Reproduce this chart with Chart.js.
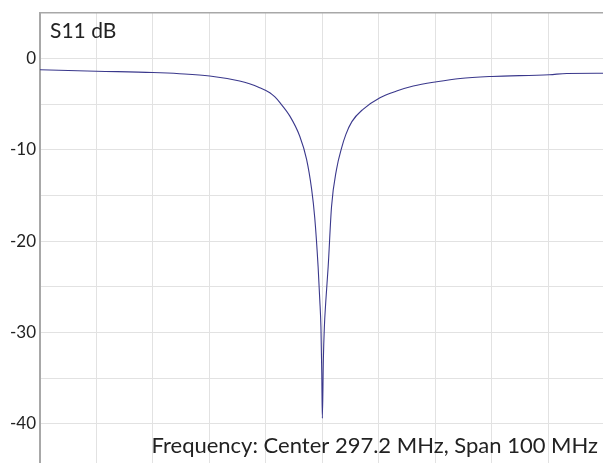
<!DOCTYPE html>
<html>
<head>
<meta charset="utf-8">
<script src="https://cdn.jsdelivr.net/npm/chart.js@4.4.1/dist/chart.umd.min.js"></script>
<style>
  body { margin: 0; background: #fff; }
</style>
</head>
<body>
<canvas id="myChart" width="603" height="463"></canvas>
<script>
// S11 sweep, frequency in MHz
const freq = [247.2, 257.2, 267.15, 271.9, 277.25, 282.55, 284.3, 286.1, 287.9, 288.8, 289.65, 291.45,
  293.2, 294.4, 295.3, 295.85, 296.45, 296.75, 296.95, 297.1, 297.2,
  297.38, 297.55, 297.82, 298.23, 298.83, 299.72, 300.6, 301.37, 302.43, 304.4, 307.4,
  310.35, 313.3, 317.45, 321.6, 327.2, 337.4, 340.5, 346.9]
const s11 = [-1.22, -1.38, -1.52, -1.65, -1.9, -2.45, -2.75, -3.18, -3.73, -4.2, -4.8, -6.3,
  -8.5, -11.0, -14.3, -17.4, -22.8, -26.5, -29.4, -34.5, -39.4,
  -33.0, -29.5, -26.5, -22.8, -16.2, -12.1, -9.8, -8.3, -6.9, -5.55, -4.28,
  -3.55, -3.0, -2.53, -2.17, -1.95, -1.76, -1.62, -1.6]

const xGrid = [247.2, 257.2, 267.2, 277.2, 287.2, 297.2, 307.2, 317.2, 327.2, 337.2]
const yGrid = [-40, -35, -30, -25, -20, -15, -10, -5, 0, 5]
const yLabels = [0, -10, -20, -30, -40]

const centerMHz = 297.2
const spanMHz = 100

const textFont = '"Lato", "Open Sans", sans-serif'

const captions = {
    id: 'captions',
    afterDraw(chart) {
        const c = chart.ctx
        c.save()
        c.fillStyle = '#222'
        c.textBaseline = 'alphabetic'
        c.textAlign = 'left'
        c.font = '21px ' + textFont
        c.fillText('S11 dB', 50, 38)
        c.textAlign = 'right'
        c.font = '22px ' + textFont
        c.fillText('Frequency: Center ' + centerMHz + ' MHz, Span ' + spanMHz + ' MHz', 598, 453)
        c.restore()
    }
}

var ctx = document.getElementById('myChart').getContext('2d')
var myChart = new Chart(ctx, {
    type: 'line',
    data: {
        datasets: [{
            label: 'S11',
            data: freq.map((f, i) => ({ x: f, y: s11[i] })),
            borderColor: 'rgb(58, 56, 140)',
            borderWidth: 1.1,
            pointRadius: 0,
            cubicInterpolationMode: 'monotone',
            fill: false
        }]
    },
    options: {
        responsive: false,
        devicePixelRatio: 1,
        animation: false,
        layout: { padding: { top: 13, left: 0, right: 0, bottom: 0 } },
        plugins: {
            legend: { display: false },
            tooltip: { enabled: false }
        },
        scales: {
            x: {
                type: 'linear',
                min: 247.2,
                max: 346.9,
                afterBuildTicks: (scale) => {
                    scale.ticks = xGrid.map(v => ({ value: v }))
                },
                ticks: { display: false },
                border: { display: false },
                grid: { color: '#e2e2e2', lineWidth: 1, drawTicks: false }
            },
            y: {
                min: -44.3,
                max: 5,
                afterBuildTicks: (scale) => {
                    scale.ticks = yGrid.map(v => ({ value: v }))
                },
                afterFit: (scale) => {
                    scale.width = 40
                    scale.paddingTop = 0
                    scale.paddingBottom = 0
                },
                ticks: {
                    padding: 4,
                    color: '#222',
                    font: { family: textFont, size: 17 },
                    callback: (v) => yLabels.includes(v) ? String(v) : ''
                },
                border: { display: true, color: '#a8a8a8', width: 2 },
                grid: {
                    drawTicks: false,
                    color: (c) => c.tick && c.tick.value === 5 ? '#a8a8a8' : '#e2e2e2',
                    lineWidth: (c) => c.tick && c.tick.value === 5 ? 1.5 : 1
                }
            }
        }
    },
    plugins: [captions]
})
</script>
</body>
</html>
